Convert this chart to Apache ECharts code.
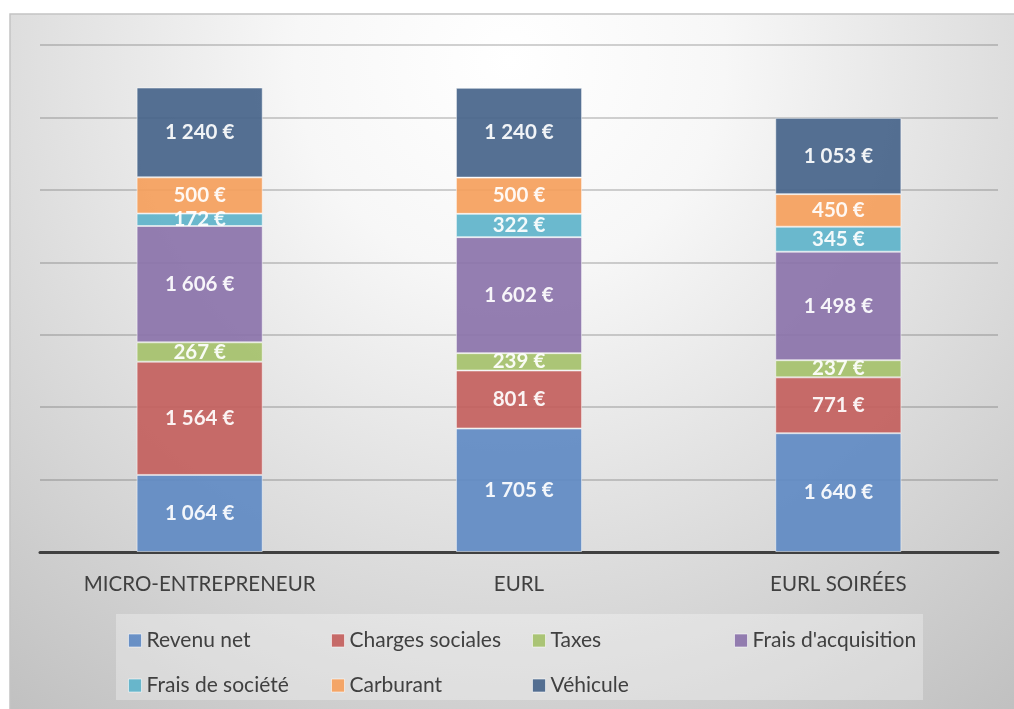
<!DOCTYPE html>
<html>
<head>
<meta charset="utf-8">
<script src="https://cdn.jsdelivr.net/npm/echarts@6/dist/echarts.min.js"></script>
<style>html,body{margin:0;padding:0;background:#fff}#c{width:1014px;height:709px}</style>
</head>
<body>
<div id="c"></div>
<script>
const categories = ['MICRO-ENTREPRENEUR', 'EURL', 'EURL SOIRÉES'];
const seriesNames = ['Revenu net', 'Charges sociales', 'Taxes', "Frais d'acquisition", 'Frais de société', 'Carburant', 'Véhicule'];
const revenuNet = [1064, 1705, 1640];
const chargesSociales = [1564, 801, 771];
const taxes = [267, 239, 237];
const fraisAcquisition = [1606, 1602, 1498];
const fraisSociete = [172, 322, 345];
const carburant = [500, 500, 450];
const vehicule = [1240, 1240, 1053];
const yTicks = [0, 1000, 2000, 3000, 4000, 5000, 6000, 7000];

const seriesData = [revenuNet, chargesSociales, taxes, fraisAcquisition, fraisSociete, carburant, vehicule];
const colors = ['#5f8ac3', '#c3605d', '#a5c16b', '#8b73aa', '#5eb3ca', '#f5a05c', '#47648a'];

function fmt(v) {
  return String(v).replace(/\B(?=(\d{3})+(?!\d))/g, ' ') + ' €';
}

const font = 'Lato, "Open Sans", sans-serif';

const legendCols = [
  { left: 123, names: [seriesNames[0], seriesNames[4]] },
  { left: 326, names: [seriesNames[1], seriesNames[5]] },
  { left: 527, names: [seriesNames[2], seriesNames[6]] },
  { left: 729, names: [seriesNames[3]] }
];

const chart = echarts.init(document.getElementById('c'), null, { renderer: 'canvas' });
chart.setOption({
  color: colors,
  animation: false,
  graphic: [
    {
      type: 'rect', z: -10, silent: true,
      shape: { x: 10, y: 14, width: 1010, height: 700 },
      style: {
        fill: { type: 'radial', x: 510, y: 60, r: 860, global: true,
          colorStops: [{ offset: 0, color: '#ffffff' }, { offset: 0.25, color: '#f7f7f7' }, { offset: 1, color: '#bdbdbd' }] },
        stroke: '#c4c4c4', lineWidth: 1.5
      }
    },
    {
      type: 'rect', z: -9, silent: true,
      shape: { x: 116, y: 614, width: 807, height: 86 },
      style: { fill: 'rgba(255,255,255,0.3)' }
    }
  ],
  grid: { left: 40, right: 16, top: 45, bottom: 157 },
  legend: legendCols.map(c => ({
    orient: 'vertical', left: c.left, top: 625,
    data: c.names, itemWidth: 13, itemHeight: 13, itemGap: 24,
    icon: 'rect',
    itemStyle: { borderColor: 'rgba(255,255,255,0.6)', borderWidth: 1 },
    textStyle: { fontFamily: font, fontSize: 21, color: '#404040' },
    selectedMode: false
  })),
  xAxis: {
    type: 'category', data: categories,
    axisLine: { lineStyle: { color: '#404040', width: 3 } },
    axisTick: { show: false },
    axisLabel: { fontFamily: font, fontSize: 20.5, color: '#404040', margin: 22 }
  },
  yAxis: {
    type: 'value', min: yTicks[0], max: yTicks[yTicks.length - 1], interval: 1000,
    axisLabel: { show: false }, axisLine: { show: false }, axisTick: { show: false },
    splitLine: { lineStyle: { color: 'rgba(80,80,80,0.35)', width: 1.5 } }
  },
  series: seriesNames.map((name, i) => ({
    name, type: 'bar', stack: 'total', barWidth: '39.5%',
    data: seriesData[i],
    itemStyle: { color: colors[i], opacity: 0.92, borderColor: 'rgba(255,255,255,0.55)', borderWidth: 1 },
    label: {
      show: true, position: 'inside', color: '#ffffff', fontFamily: font,
      fontWeight: 'bold', fontSize: 20.5, formatter: p => fmt(p.value)
    }
  }))
});
</script>
</body>
</html>
